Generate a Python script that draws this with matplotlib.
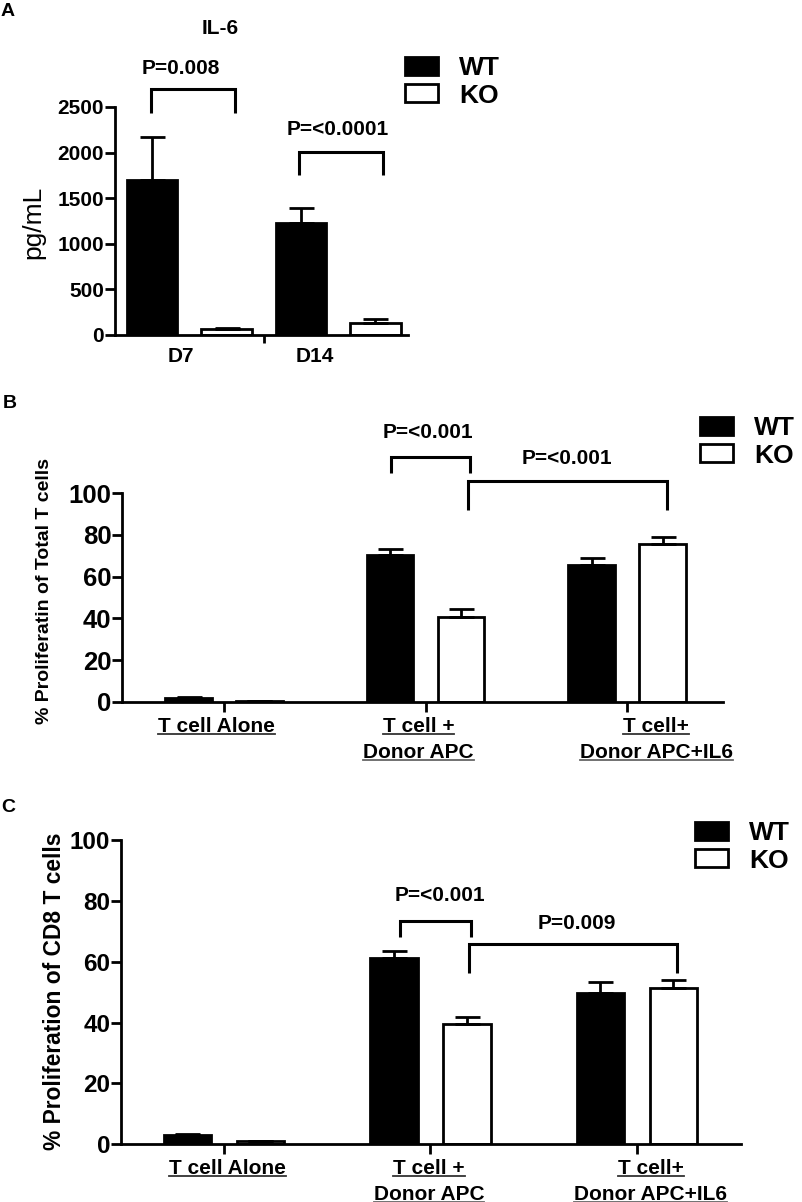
import matplotlib
matplotlib.use('Agg')
import matplotlib.pyplot as plt
from matplotlib.transforms import blended_transform_factory
from matplotlib.lines import Line2D
import numpy as np

plt.rcParams['font.family'] = ['Liberation Sans', 'DejaVu Sans']
plt.rcParams['font.weight'] = 'bold'

W, H, DPI = 802, 1202, 100

# ---------------- data ----------------
series = ['WT', 'KO']

groups_a = ['D7', 'D14']
il6_wt = [1700, 1230]
il6_wt_sem = [470, 160]
il6_ko = [70, 135]
il6_ko_sem = [5, 37]

conditions = [['T cell Alone'], ['T cell +', 'Donor APC'], ['T cell+', 'Donor APC+IL6']]
total_wt = [2.0, 70.4, 65.6]
total_wt_sem = [0.4, 2.8, 3.2]
total_ko = [0.3, 40.8, 75.7]
total_ko_sem = [0.1, 3.7, 3.2]

cd8_wt = [3.0, 61.1, 49.8]
cd8_wt_sem = [0.3, 2.5, 3.6]
cd8_ko = [1.0, 39.4, 51.3]
cd8_ko_sem = [0.1, 2.3, 2.7]

pvals_a = ['P=0.008', 'P=<0.0001']
pvals_b = ['P=<0.001', 'P=<0.001']
pvals_c = ['P=<0.001', 'P=0.009']

# ---------------- helpers ----------------
fig = plt.figure(figsize=(W / DPI, H / DPI), dpi=DPI)


def px_axes(left, top, right, bottom):
    return fig.add_axes([left / W, 1 - bottom / H, (right - left) / W, (bottom - top) / H])


def fig_text(x, y, s, **kw):
    kw.setdefault('ha', 'center')
    kw.setdefault('va', 'center')
    return fig.text(x / W, 1 - y / H, s, **kw)


def style_axes(ax):
    for s in ['top', 'right']:
        ax.spines[s].set_visible(False)
    for s in ['left', 'bottom']:
        ax.spines[s].set_linewidth(2)


def bracket(ax, x1, x2, ytop, yl1, yl2):
    ax.plot([x1, x1, x2, x2], [yl1, ytop, ytop, yl2], color='black', lw=2.2,
            clip_on=False, solid_joinstyle='miter', solid_capstyle='butt')


def grouped(ax, wt, wt_sem, ko, ko_sem, off, width, capsize):
    x = np.arange(len(wt))
    b1 = ax.bar(x - off, wt, width, color='black', edgecolor='black', lw=2, label=series[0], zorder=2)
    b2 = ax.bar(x + off, ko, width, color='white', edgecolor='black', lw=2, label=series[1], zorder=2)
    ax.errorbar(x - off, wt, yerr=[np.zeros(len(wt)), wt_sem], fmt='none', ecolor='black',
                elinewidth=2, capsize=capsize, capthick=2, zorder=3)
    ax.errorbar(x + off, ko, yerr=[np.zeros(len(ko)), ko_sem], fmt='none', ecolor='black',
                elinewidth=2, capsize=capsize, capthick=2, zorder=3)
    return b1, b2


def legend(ax, handles, left_px, center_px):
    ax.legend(handles=handles, loc='center left',
              bbox_to_anchor=(left_px / W, 1 - center_px / H), bbox_transform=fig.transFigure,
              frameon=False, fontsize=19, handlelength=1.25, handleheight=0.68,
              handletextpad=0.8, labelspacing=0.12, borderpad=0, borderaxespad=0)


# ---------------- panel A ----------------
axA = px_axes(115, 107, 408, 335)
style_axes(axA)
bA = grouped(axA, il6_wt, il6_wt_sem, il6_ko, il6_ko_sem, 0.25, 0.34, 9)
axA.set_xlim(-0.5, 1.47)
axA.set_ylim(0, 2500)
axA.set_yticks(np.arange(0, 2501, 500))
axA.tick_params(axis='y', length=7, width=2, pad=1, labelsize=15)
axA.set_xticks([-0.06, 0.846], groups_a)
axA.tick_params(axis='x', which='major', length=0, pad=9, labelsize=15)
axA.set_xticks([0.5], minor=True)
axA.tick_params(axis='x', which='minor', length=6, width=2)
bracket(axA, -0.26, 0.31, 2697, 2434, 2434)
bracket(axA, 0.738, 1.302, 2007, 1754, 1754)
axA.text(-0.06, 2917, pvals_a[0], ha='center', va='center', fontsize=15, clip_on=False)
axA.text(1.0, 2253, pvals_a[1], ha='center', va='center', fontsize=15, clip_on=False)
legend(axA, list(bA), 405, 82)
fig_text(8, 12, 'A', fontsize=14)
fig_text(220, 29, 'IL-6', fontsize=15)
fig_text(33, 222, 'pg/mL', rotation=90, fontsize=19, fontweight='normal')

# ---------------- panel B ----------------
axB = px_axes(122, 493.3, 723, 701.7)
style_axes(axB)
bB = grouped(axB, total_wt, total_wt_sem, total_ko, total_ko_sem, 0.176, 0.232, 9)
axB.set_xlim(-0.506, 2.476)
axB.set_ylim(0, 100)
axB.set_yticks(np.arange(0, 101, 20))
axB.tick_params(axis='y', length=7, width=2, pad=0.5, labelsize=18.5)
axB.set_xticks([0, 1, 2], ['', '', ''])
axB.tick_params(axis='x', length=7, width=2)
bracket(axB, 0.827, 1.221, 117.6, 109.9, 109.9)
bracket(axB, 1.212, 2.197, 106.1, 92.0, 92.0)
axB.text(1.01, 129.0, pvals_b[0], ha='center', va='center', fontsize=15, clip_on=False)
axB.text(1.70, 116.5, pvals_b[1], ha='center', va='center', fontsize=15, clip_on=False)
legend(axB, list(bB), 700, 442)
fig_text(10, 404, 'B', fontsize=14)
fig_text(45, 590.5, '% Proliferatin of Total T cells', rotation=90, fontsize=14)

# ---------------- panel C ----------------
axC = px_axes(120.7, 840, 741, 1144.3)
style_axes(axC)
bC = grouped(axC, cd8_wt, cd8_wt_sem, cd8_ko, cd8_ko_sem, 0.177, 0.23, 9)
axC.set_xlim(-0.5, 2.504)
axC.set_ylim(0, 100)
axC.set_yticks(np.arange(0, 101, 20))
axC.tick_params(axis='y', length=7, width=2, pad=0.5, labelsize=17.5)
axC.set_xticks([0, 1, 2], ['', '', ''])
axC.tick_params(axis='x', length=7, width=2)
bracket(axC, 0.852, 1.195, 73.5, 68.2, 68.2)
bracket(axC, 1.188, 2.192, 65.7, 56.2, 56.2)
axC.text(1.046, 81.6, pvals_c[0], ha='center', va='center', fontsize=15, clip_on=False)
axC.text(1.708, 72.6, pvals_c[1], ha='center', va='center', fontsize=15, clip_on=False)
legend(axC, list(bC), 695, 847)
fig_text(8, 807, 'C', fontsize=14)
fig_text(55, 991, '% Proliferation of CD8 T cells', rotation=90, fontsize=16.4)

# ---------------- underlined category labels ----------------
underlined = []


def cat_labels(ax, xs, baselines):
    tr = blended_transform_factory(ax.transData, fig.transFigure)
    for x, lines in zip(xs, conditions):
        for j, line in enumerate(lines):
            t = ax.text(x, 1 - baselines[j] / H, line, transform=tr, ha='center', va='baseline',
                        fontsize=15, clip_on=False)
            underlined.append((t, baselines[j], j))


cat_labels(axB, [-0.035, 0.965, 2.144], [732, 758])
cat_labels(axC, [0.017, 0.993, 2.068], [1174, 1200])

fig.canvas.draw()
renderer = fig.canvas.get_renderer()
for t, base, j in underlined:
    bb = t.get_window_extent(renderer)
    yd = (H - base - 2.0) / H
    fig.add_artist(Line2D([bb.x0 / W, bb.x1 / W], [yd, yd], transform=fig.transFigure,
                          color='#333' if j == 0 else '#666', lw=1.3))

fig.savefig('out.png', dpi=DPI)
